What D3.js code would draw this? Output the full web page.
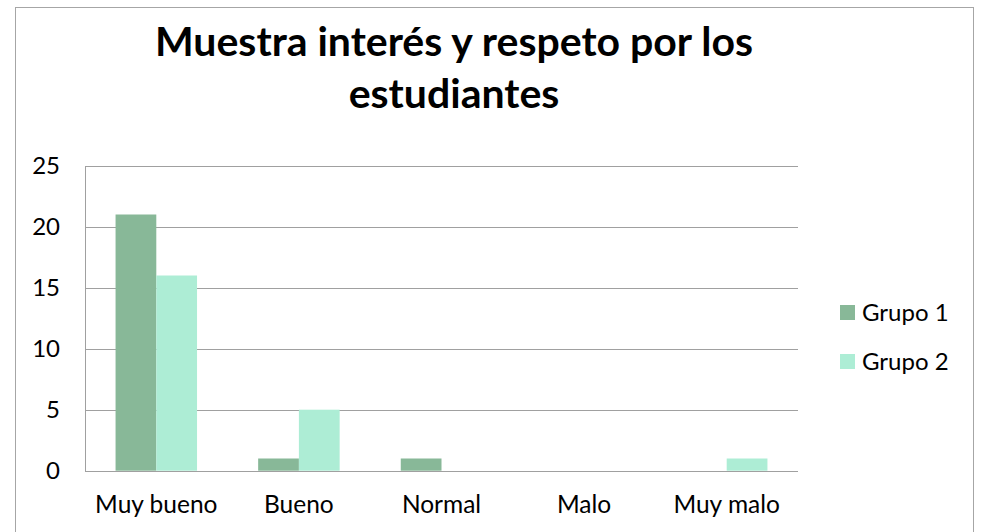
<!DOCTYPE html>
<html>
<head>
<meta charset="utf-8">
<script src="https://cdn.jsdelivr.net/npm/d3@7"></script>
<style>
  body { margin: 0; background: #fff; }
  text { font-family: Lato, "Open Sans", sans-serif; fill: #000; }
</style>
</head>
<body>
<svg id="chart" width="984" height="532"></svg>
<script>
var categories = ["Muy bueno", "Bueno", "Normal", "Malo", "Muy malo"];
var series_names = ["Grupo 1", "Grupo 2"];
var grupo1_values = [21, 1, 1, 0, 0];
var grupo2_values = [16, 5, 0, 0, 1];
var y_ticks = [0, 5, 10, 15, 20, 25];
var title_lines = ["Muestra interés y respeto por los", "estudiantes"];

var colors = { "Grupo 1": "#88b898", "Grupo 2": "#adedd5" };

var svg = d3.select("#chart");

// outer chart border (bottom edge runs off the picture)
svg.append("rect")
  .attr("x", 15.5).attr("y", 7.5)
  .attr("width", 958).attr("height", 540)
  .attr("fill", "#fff")
  .attr("stroke", "#a6a6a6");

var plot = { left: 85, right: 798, top: 165.7, bottom: 470.7 };

var x = d3.scaleBand()
  .domain(categories)
  .range([plot.left, plot.right]);

var x_inner = d3.scaleBand()
  .domain(series_names)
  .range([0, x.bandwidth()])
  .paddingOuter(0.75);

var y = d3.scaleLinear()
  .domain([0, 25])
  .range([plot.bottom, plot.top]);

// gridlines
svg.append("g")
  .selectAll("line")
  .data(y_ticks)
  .enter()
  .append("line")
    .attr("x1", plot.left).attr("x2", plot.right)
    .attr("y1", function(d) { return Math.round(y(d)) + 0.5; })
    .attr("y2", function(d) { return Math.round(y(d)) + 0.5; })
    .attr("stroke", "#a0a0a0");

// left axis line
svg.append("line")
  .attr("x1", plot.left + 0.5).attr("x2", plot.left + 0.5)
  .attr("y1", Math.round(y(25)) + 0.5).attr("y2", Math.round(y(0)) + 0.5)
  .attr("stroke", "#a0a0a0");

// bars
var rows = categories.map(function(c, i) {
  return [
    { cat: c, name: "Grupo 1", value: grupo1_values[i] },
    { cat: c, name: "Grupo 2", value: grupo2_values[i] }
  ];
});

svg.append("g")
  .selectAll("g")
  .data(rows)
  .enter()
  .append("g")
    .attr("transform", function(d) { return "translate(" + x(d[0].cat) + ",0)"; })
  .selectAll("rect")
  .data(function(d) { return d.filter(function(e) { return e.value > 0; }); })
  .enter()
  .append("rect")
    .attr("x", function(d) { return x_inner(d.name); })
    .attr("width", x_inner.bandwidth())
    .attr("y", function(d) { return y(d.value); })
    .attr("height", function(d) { return y(0) - y(d.value); })
    .attr("fill", function(d) { return colors[d.name]; });

// y tick labels
svg.append("g")
  .selectAll("text")
  .data(y_ticks)
  .enter()
  .append("text")
    .attr("x", 60)
    .attr("y", function(d) { return y(d); })
    .attr("dy", "0.35em")
    .attr("text-anchor", "end")
    .attr("font-size", 24)
    .text(function(d) { return d; });

// x category labels
svg.append("g")
  .selectAll("text")
  .data(categories)
  .enter()
  .append("text")
    .attr("x", function(d) { return x(d) + x.bandwidth() / 2; })
    .attr("y", 513)
    .attr("text-anchor", "middle")
    .attr("font-size", 24.5)
    .text(function(d) { return d; });

// title
svg.append("g")
  .selectAll("text")
  .data(title_lines)
  .enter()
  .append("text")
    .attr("x", 454)
    .attr("y", function(d, i) { return 56 + i * 52; })
    .attr("text-anchor", "middle")
    .attr("font-size", 41)
    .attr("font-weight", "bold")
    .text(function(d) { return d; });

// legend
var legend = svg.append("g")
  .selectAll("g")
  .data(series_names)
  .enter()
  .append("g")
    .attr("transform", function(d, i) { return "translate(840," + (305 + i * 49) + ")"; });

legend.append("rect")
  .attr("width", 15).attr("height", 15)
  .attr("fill", function(d) { return colors[d]; });

legend.append("text")
  .attr("x", 22)
  .attr("y", 7.5)
  .attr("dy", "0.35em")
  .attr("font-size", 24)
  .text(function(d) { return d; });
</script>
</body>
</html>
